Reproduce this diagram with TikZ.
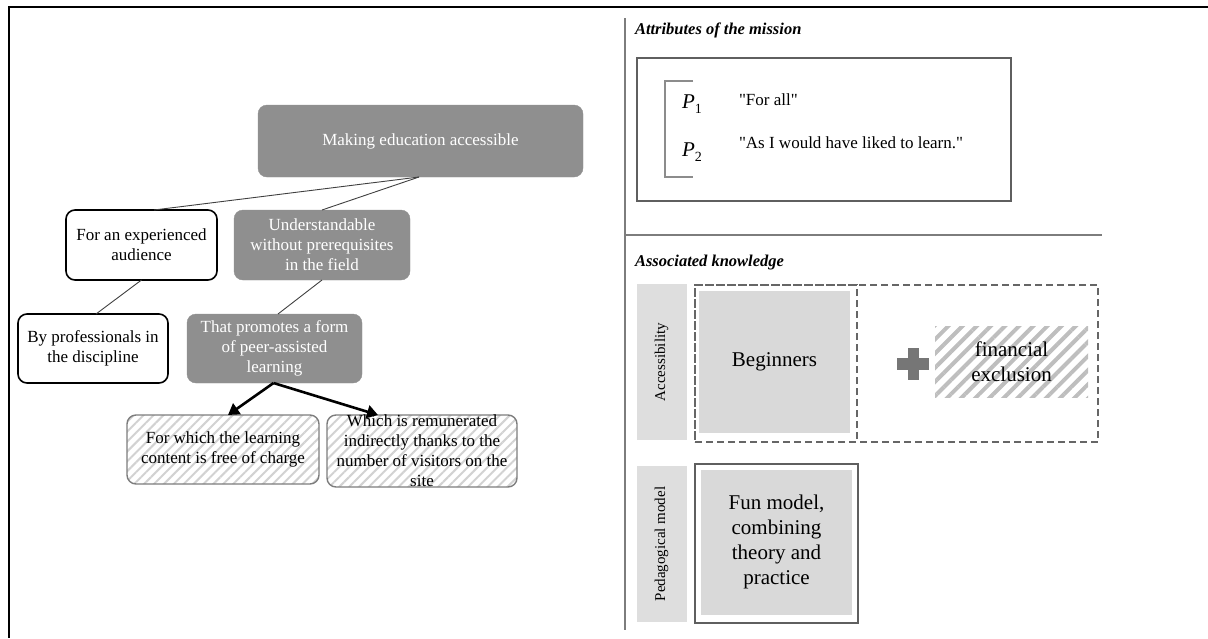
\documentclass[tikz,border=0pt]{standalone}
\usepackage{fontspec}
\setmainfont{Liberation Serif}[Ligatures=TeXOff]
\usetikzlibrary{patterns.meta,arrows.meta}
\definecolor{boxgray}{RGB}{143,143,143}
\definecolor{lightfill}{RGB}{217,217,217}
\definecolor{labelfill}{RGB}{222,222,222}
\definecolor{hatchgray}{RGB}{210,210,210}
\definecolor{hatchdark}{RGB}{190,190,190}
\definecolor{linegray}{RGB}{125,125,125}
\definecolor{framegray}{RGB}{95,95,95}
\definecolor{plusgray}{RGB}{118,118,118}
\newcommand{\propsym}[1]{{\itshape P}\raisebox{-4.5pt}{\fontsize{14}{14}\selectfont #1}}
\begin{document}
\begin{tikzpicture}[x=1pt,y=-1pt,
  every node/.style={inner sep=0pt, outer sep=0pt},
  txt/.style={font=\fontsize{17}{20}\selectfont, align=center},
  bigtxt/.style={font=\fontsize{21}{25}\selectfont, align=center},
  graybox/.style={txt, rounded corners=9pt, fill=boxgray, draw=boxgray, text=white},
  whitebox/.style={txt, rounded corners=9pt, fill=white, draw=black, line width=1.6pt},
  hatchbox/.style={txt, rounded corners=9pt, draw=linegray, line width=1.4pt,
    pattern={Lines[angle=45,distance=7pt,line width=2pt]}, pattern color=hatchgray},
  link/.style={draw=black!75, line width=0.9pt},
  bigarrow/.style={draw=black, line width=2.6pt, -{Triangle[length=11pt,width=13pt]}},
  sepline/.style={draw=linegray, line width=1.2pt},
  title/.style={font=\fontsize{16.5}{19}\selectfont\bfseries\itshape, anchor=west},
  quote/.style={font=\fontsize{17}{20}\selectfont, anchor=west},
  symb/.style={font=\fontsize{21}{24}\selectfont, anchor=west},
  sidelabel/.style={fill=labelfill, minimum width=50, minimum height=#1},
  dashedframe/.style={draw=black!60, line width=1.8pt, dash pattern=on 7pt off 4pt}
]
\useasboundingbox (0,0) rectangle (1208,638);
% outer frame
\draw[line width=2pt] (1208,7) -- (9,7) -- (9,638);

% ---------- left diagram ----------
\node[graybox, minimum width=325, minimum height=72] (top) at (420.5,141) {Making education accessible};
\node[whitebox, minimum width=151, minimum height=70] (exp) at (141.5,245) {For an experienced\\audience};
\node[graybox, minimum width=176, minimum height=70] (und) at (322,245) {Understandable\\without prerequisites\\in the field};
\node[whitebox, minimum width=150, minimum height=69] (prof) at (93,348.5) {By professionals in\\the discipline};
\node[graybox, minimum width=175, minimum height=69] (prom) at (274.5,348.5) {That promotes a form\\of peer-assisted\\learning};
\node[hatchbox, minimum width=192, minimum height=69] (free) at (223,449.5) {For which the learning\\content is free of charge};
\node[hatchbox, minimum width=190, minimum height=72] (rem) at (422,451) {};
\node[txt] (remtext) at (rem.center) {Which is remunerated\\indirectly thanks to the\\number of visitors on the\\site};

\draw[link] ([xshift=-1.5pt]top.south) -- ([xshift=12.5pt]exp.north);
\draw[link] ([xshift=-1.5pt]top.south) -- (und.north);
\draw[link] (exp.south) -- ([xshift=3pt]prof.north);
\draw[link] (und.south) -- ([xshift=3.5pt]prom.north);
\draw[bigarrow] ([xshift=-1pt]prom.south) -- ([xshift=5pt]free.north);
\draw[bigarrow] ([xshift=-1pt]prom.south) -- ([xshift=-44pt]rem.north);

% ---------- right panel ----------
\draw[sepline] (625,18) -- (625,630);
\draw[sepline] (625,235) -- (1102,235);

\node[title] (t1) at (635,30) {Attributes of the mission};
\node[draw=framegray, line width=2pt, minimum width=374.5, minimum height=143] (attr) at (823.75,129.5) {};
\draw[draw=black!45, line width=2pt] (693,81) -- (665,81) -- (665,177) -- (693,177);
\node[symb] (p1) at (682,104) {\propsym{1}};
\node[symb] (p2) at (682,152) {\propsym{2}};
\node[quote] (q1) at (739,100) {"For all"};
\node[quote] (q2) at (739,143) {"As I would have liked to learn."};

\node[title] (t2) at (635,263) {Associated knowledge};

% Accessibility row
\node[sidelabel=156] (acc) at (661.5,362) {};
\node[rotate=90, font=\fontsize{15}{18}\selectfont] (acctext) at (acc.center) {Accessibility};
\node[fill=lightfill, minimum width=151, minimum height=142] (beg) at (774.5,362) {};
\node[bigtxt] (begtext) at (beg.center) {Beginners};
\node[dashedframe, minimum width=162, minimum height=157] (begframe) at (776,363.5) {};
\node[dashedframe, minimum width=403, minimum height=157] (accframe) at (896.5,363.5) {};
\node[fill=plusgray, minimum width=32, minimum height=12] (plush) at (913,363.5) {};
\node[fill=plusgray, minimum width=11, minimum height=32] (plusv) at (913,363.5) {};
\node[bigtxt, minimum width=153, minimum height=71,
  pattern={Lines[angle=45,distance=10pt,line width=4pt]}, pattern color=hatchdark] (fin) at (1011.5,361.5) {financial\\exclusion};

% Pedagogical row
\node[sidelabel=156] (ped) at (661.5,544) {};
\node[rotate=90, font=\fontsize{15}{18}\selectfont] (pedtext) at (ped.center) {Pedagogical model};
\node[draw=framegray, line width=1.8pt, fill=white, minimum width=163, minimum height=159] (funframe) at (776.5,543.5) {};
\node[fill=lightfill, minimum width=151, minimum height=145] (fun) at (776.5,542) {};
\node[bigtxt] (funtext) at (fun.center) {Fun model,\\combining\\theory and\\practice};
\end{tikzpicture}
\end{document}
